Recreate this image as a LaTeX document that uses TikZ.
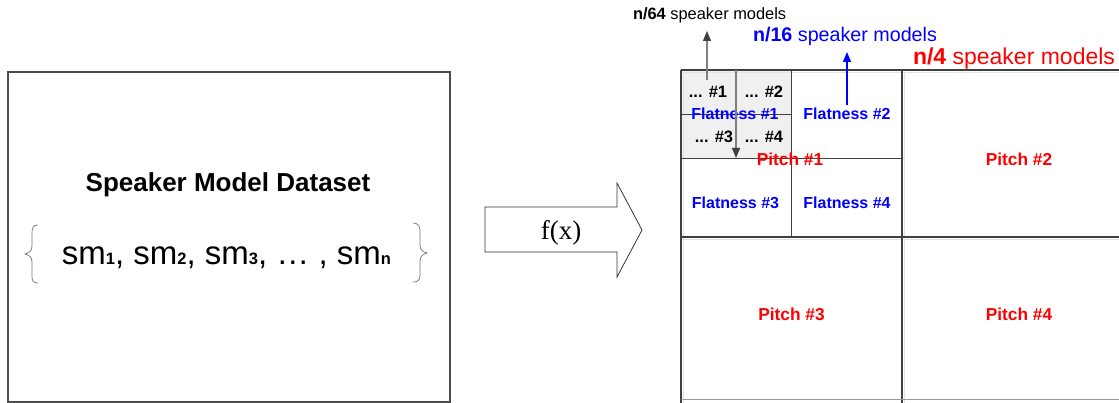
\documentclass[tikz,border=0pt]{standalone}
\usepackage{fontspec}
\setmainfont{Liberation Sans}
\newfontfamily\seriffont{Liberation Serif}
\usetikzlibrary{arrows.meta}

\definecolor{linegray}{HTML}{404040}
\definecolor{arrowgray}{HTML}{7F7F7F}
\definecolor{cellgray}{HTML}{F0F0F0}
\definecolor{shadowgray}{HTML}{E3E3E3}
\definecolor{txtblue}{HTML}{0000FF}
\definecolor{txtred}{HTML}{FF0000}

\newcommand\fs[1]{\fontsize{#1}{#1}\selectfont}
\newcommand\idx[1]{{\fs{16.5}\bfseries #1}}

\begin{document}
\begin{tikzpicture}[x=1pt,y=-1pt,
  every node/.style={inner sep=0pt, outer sep=0pt},
  heavy/.style={draw=linegray, line width=2.2pt},
  heavyshade/.style={draw=shadowgray, line width=1.4pt},
  fine/.style={draw=linegray, line width=1pt},
  bracestroke/.style={draw=black!55, line width=0.7pt},
  subcell/.style={font=\fs{16.5}\bfseries, text=black},
  flatcell/.style={font=\fs{16}\bfseries, text=txtblue},
  pitchcell/.style={font=\fs{17.3}\bfseries, text=txtred},
  pointer/.style={line width=1.2pt, -{Triangle[width=8pt,length=10pt]}},
]
\useasboundingbox (0,0) rectangle (1119,403);

% ---------------- dataset box ----------------
\node[draw=black!70, line width=1.5pt, minimum width=442pt, minimum height=330pt]
  (dataset) at (229,237) {};
\node[anchor=base, font=\fs{26}\bfseries] (title) at (228,192) {Speaker Model Dataset};
\node[anchor=base, font=\fs{33}] (members) at (226.5,265)
  {sm\idx{1}, sm\idx{2}, sm\idx{3}, \ldots\ , sm\idx{n}};

% curly braces round the member list
\draw[bracestroke] (38,225) .. controls (33,225) and (32,228) .. (32,233)
  -- (32,246) .. controls (32,251) and (29,253) .. (25,254)
  .. controls (29,255) and (32,257) .. (32,262)
  -- (32,276) .. controls (32,281) and (33,283) .. (38,283);
\draw[bracestroke] (413,223) .. controls (418,223) and (420,226) .. (420,231)
  -- (420,245) .. controls (420,250) and (423,252) .. (427,253)
  .. controls (423,254) and (420,256) .. (420,261)
  -- (420,275) .. controls (420,280) and (418,282) .. (413,282);

% ---------------- mapping arrow ----------------
\draw[draw=black!80, line width=0.8pt]
  (485,207) -- (617,207) -- (617,183) -- (642,230) -- (617,277)
  -- (617,252) -- (485,252) -- cycle;
\node[font=\seriffont\fs{27}] (fx) at (561,233) {f(x)};

% ---------------- partition grid ----------------
\begin{scope}
\clip (0,0) rectangle (1119,403);
\fill[cellgray] (681,70) rectangle (791,159);
% light shading beside the heavy rules
\draw[heavyshade] (682,72.5) -- (1125,72.5);
\draw[heavyshade] (683.5,72) -- (683.5,405);
\draw[heavyshade] (904.5,72) -- (904.5,405);
\draw[heavyshade] (683,239.5) -- (1125,239.5);
% fine rules
\draw[fine] (681,115) -- (791,115);
\draw[fine] (791,70) -- (791,237);
\draw[fine] (681,159) -- (902,159);
% heavy rules
\draw[heavy] (681,70) -- (1125,70);
\draw[heavy] (681,70) -- (681,405);
\draw[heavy] (902,70) -- (902,405);
\draw[heavy] (681,237) -- (1125,237);
\draw[draw=black!40, line width=0.8pt] (681,399.5) -- (1125,399.5);
\end{scope}

% cell labels
\node[subcell] (s1) at (708,92) {... \#1};
\node[subcell] (s2) at (764,92) {... \#2};
\node[subcell] (s3) at (714,137) {... \#3};
\node[subcell] (s4) at (764,137) {... \#4};
\node[flatcell] (f1) at (735,113.5) {Flatness \#1};
\node[flatcell] (f2) at (847,113.5) {Flatness \#2};
\node[flatcell] (f3) at (735.5,203) {Flatness \#3};
\node[flatcell] (f4) at (847,203) {Flatness \#4};
\node[pitchcell] (p1) at (790,159) {Pitch \#1};
\node[pitchcell] (p2) at (1019,159) {Pitch \#2};
\node[pitchcell] (p3) at (791.5,314) {Pitch \#3};
\node[pitchcell] (p4) at (1019,314) {Pitch \#4};

% level captions
\node[anchor=base west, font=\fs{16.4}] (l64) at (633,20)
  {\textbf{n/64} speaker models};
\node[anchor=base west, font=\fs{19.7}, text=txtblue] (l16) at (753,42)
  {\textbf{n/16} speaker models};
\node[anchor=base west, font=\fs{23}, text=txtred] (l4) at (913,65)
  {\textbf{n/4} speaker models};

% pointers between levels
\coordinate (up64from) at (707,80);
\coordinate (up64to) at (707,31);
\coordinate (downfrom) at (736,70);
\coordinate (downto) at (736,158);
\coordinate (up16from) at (847,105);
\coordinate (up16to) at (847,52);
\draw[pointer, draw=arrowgray, -{Triangle[width=8pt,length=10pt,color=linegray]}]
  (up64from) -- (up64to);
\draw[pointer, draw=arrowgray, -{Triangle[width=8pt,length=10pt,color=linegray]}]
  (downfrom) -- (downto);
\draw[pointer, draw=txtblue, -{Triangle[width=8pt,length=10pt]}]
  (up16from) -- (up16to);
\end{tikzpicture}
\end{document}
